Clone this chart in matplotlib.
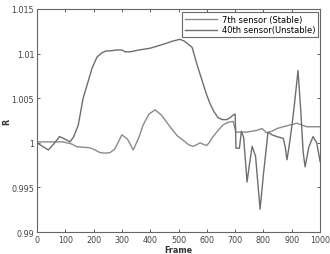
import matplotlib
matplotlib.use("Agg")
from matplotlib import pyplot as plt
from matplotlib.ticker import FuncFormatter

# 7th sensor (stable) - stays near 1
frame_7 = [0, 50, 92, 120, 141, 165, 187, 205, 223, 240, 258, 275, 300, 320, 340, 360,
           375, 395, 417, 440, 470, 495, 516, 535, 551, 565, 576, 590, 600, 610, 622, 640,
           657, 675, 693, 703, 720, 740, 760, 777, 795, 812, 830, 848, 870, 894, 918,
           935, 953, 975, 1000]
r_7 = [1.0001, 1.0001, 1.0001, 0.9999, 0.99956, 0.9995, 0.99945, 0.9992, 0.9989, 0.99885,
       0.9989, 0.9993, 1.0009, 1.0004, 0.9992, 1.0006, 1.002, 1.0032, 1.0037, 1.0031,
       1.0018, 1.0008, 1.0003, 0.9998, 0.9996, 0.9998, 1.0, 0.9998, 0.9997, 1.0001,
       1.0007, 1.0014, 1.002, 1.0023, 1.0024, 1.0012, 1.0012, 1.0012, 1.0013, 1.0014,
       1.0016, 1.0011, 1.0013, 1.0016, 1.0018, 1.002, 1.0022, 1.002, 1.0018, 1.0018, 1.0018]

# 40th sensor (unstable)
frame_40 = [0, 20, 40, 60, 80, 100, 117, 130, 146, 163, 180, 195, 212, 230, 245, 258, 280,
            300, 311, 330, 360, 400, 452, 480, 505, 520, 548, 565, 583, 598, 611, 625,
            640, 655, 671, 685, 697, 700, 703, 715, 722, 730, 742, 750, 760, 772, 788,
            800, 816, 830, 847, 870, 877, 883, 890, 900, 910, 922, 932, 940, 947, 960,
            975, 988, 1000]
r_40 = [1.0, 0.9996, 0.9992, 0.9999, 1.0007, 1.0004, 1.0001, 1.0007, 1.002, 1.005, 1.0068,
        1.0084, 1.0096, 1.0101, 1.0103, 1.0103, 1.0104, 1.0104, 1.0102, 1.0102, 1.0104,
        1.0106, 1.0111, 1.0114, 1.0116, 1.0114, 1.0107, 1.0088, 1.007, 1.0055, 1.0044,
        1.0035, 1.0028, 1.0026, 1.0026, 1.0029, 1.0032, 1.0032, 0.9994, 0.9994, 1.0013,
        1.0006, 0.9956, 0.9975, 0.9996, 0.9985, 0.99256, 0.9965, 1.0012, 1.0009, 1.0007,
        1.0005, 0.9995, 0.9981, 0.9995, 1.0018, 1.0045, 1.0081, 1.0035, 0.999, 0.9973,
        0.9995, 1.0007, 1.0, 0.9979]

plt.rcParams['font.family'] = 'DejaVu Sans'
fig = plt.figure(figsize=(3.3, 2.55), dpi=100)
ax = fig.add_axes([0.112, 0.086, 0.858, 0.875])

ax.plot(frame_7, r_7, color='#8a8a8a', lw=1.0, label='7th sensor (Stable)')
ax.plot(frame_40, r_40, color='#6e6e6e', lw=1.0, label='40th sensor(Unstable)')

ax.set_xlim(0, 1000)
ax.set_ylim(0.99, 1.015)
ax.set_xticks(range(0, 1001, 100))
ax.set_yticks([0.99, 0.995, 1.0, 1.005, 1.01, 1.015])
ax.yaxis.set_major_formatter(FuncFormatter(lambda v, p: '%g' % round(v, 3)))
ax.tick_params(direction='in', length=2.5, width=0.6, labelsize=5.8,
               top=True, right=True, colors='#444444', pad=2)
for s in ax.spines.values():
    s.set_color('#666666')
    s.set_linewidth(0.8)

ax.set_xlabel('Frame', fontsize=5.8, fontweight='bold', labelpad=1, color='#333333')
ax.set_ylabel('R', fontsize=5.8, fontweight='bold', color='#333333')
ax.yaxis.set_label_coords(-0.09, 0.5)

leg = ax.legend(loc='upper right', bbox_to_anchor=(0.993, 0.987), fontsize=6,
                fancybox=False, edgecolor='#444444', borderpad=0.35,
                handlelength=3.8, handletextpad=0.6, labelspacing=0.2, borderaxespad=0)
leg.get_frame().set_linewidth(0.8)

fig.savefig('out.png', dpi=100)
